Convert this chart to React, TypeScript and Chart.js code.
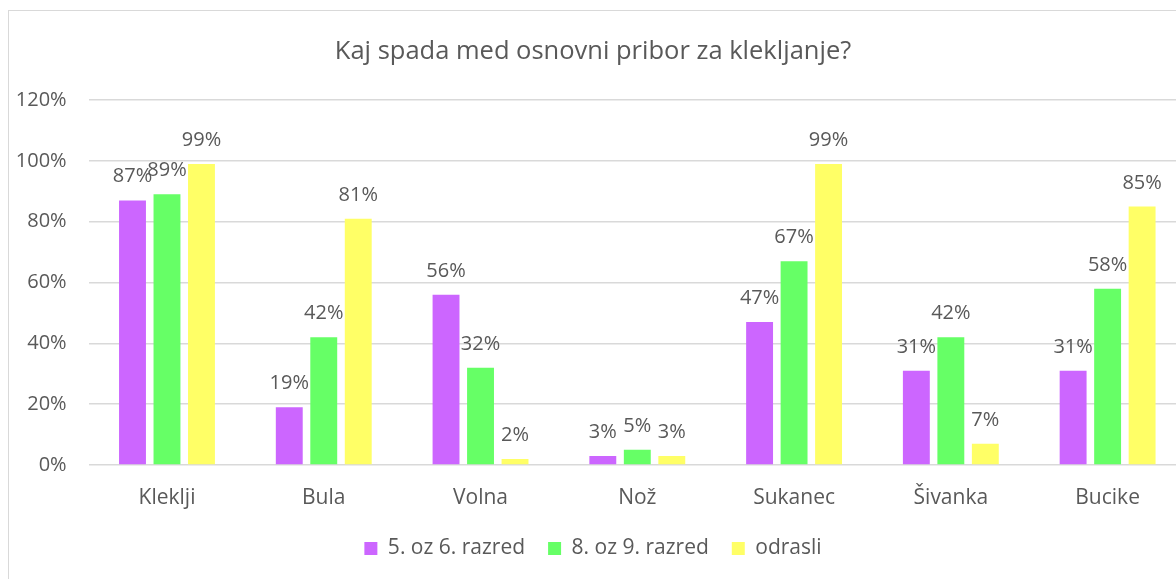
import React, { useEffect, useRef } from "react";
import { Chart, registerables } from "chart.js";

Chart.register(...registerables);

const chartTitle = "Kaj spada med osnovni pribor za klekljanje?";
const categories = ["Kleklji", "Bula", "Volna", "Nož", "Sukanec", "Šivanka", "Bucike"];
const seriesNames = ["5. oz 6. razred", "8. oz 9. razred", "odrasli"];
const grade56 = [87, 19, 56, 3, 47, 31, 31];
const grade89 = [89, 42, 32, 5, 67, 42, 58];
const adults = [99, 81, 2, 3, 99, 7, 85];
const yMin = 0;
const yMax = 120;
const yStep = 20;

const FONT = "'Open Sans', sans-serif";
const TEXT = "#595959";
const GRID = "#d9d9d9";
const COLORS = ["#CC66FF", "#66FF66", "#FFFF66"];

const labelPlugin = {
  id: "barLabels",
  afterDatasetsDraw(chart: any) {
    const ctx = chart.ctx;
    ctx.save();
    ctx.font = `20px ${FONT}`;
    ctx.fillStyle = TEXT;
    ctx.textAlign = "center";
    ctx.textBaseline = "alphabetic";
    chart.data.datasets.forEach((ds: any, i: number) => {
      const meta = chart.getDatasetMeta(i);
      meta.data.forEach((bar: any, j: number) => {
        ctx.fillText(`${ds.data[j]}%`, bar.x, bar.y - 18);
      });
    });
    ctx.restore();
  },
};

export default function App() {
  const canvasRef = useRef<HTMLCanvasElement | null>(null);

  useEffect(() => {
    if (!canvasRef.current) return;
    const seriesValues = [grade56, grade89, adults];
    const chart = new Chart(canvasRef.current, {
      type: "bar",
      data: {
        labels: categories,
        datasets: seriesNames.map((name, i) => ({
          label: name,
          data: seriesValues[i],
          backgroundColor: COLORS[i],
          borderWidth: 0,
          categoryPercentage: 0.66,
          barPercentage: 0.78,
        })),
      },
      options: {
        animation: false,
        responsive: true,
        maintainAspectRatio: false,
        layout: { padding: { left: 0, right: 14, top: 0, bottom: 10 } },
        plugins: {
          title: {
            display: true,
            text: chartTitle,
            color: TEXT,
            font: { family: FONT, size: 25.5, weight: "normal" },
            padding: { top: 36.5, bottom: 33 },
          },
          legend: {
            position: "bottom",
            labels: {
              color: TEXT,
              font: { family: FONT, size: 21 },
              boxWidth: 13,
              boxHeight: 13,
              padding: 23,
            },
          },
          tooltip: { enabled: false },
        },
        scales: {
          x: {
            grid: { display: false },
            border: { display: false },
            ticks: { color: TEXT, font: { family: FONT, size: 21 }, padding: 12 },
            afterFit: (scale: any) => {
              scale.height = 50;
            },
          },
          y: {
            min: yMin,
            max: yMax,
            grid: { color: GRID, lineWidth: 1.5, drawTicks: false },
            border: { display: false },
            ticks: {
              stepSize: yStep,
              color: TEXT,
              font: { family: FONT, size: 20 },
              padding: 22,
              callback: (v: any) => `${v}%`,
            },
            afterFit: (scale: any) => {
              scale.width = 88.6;
            },
          },
        },
      },
      plugins: [labelPlugin],
    });
    return () => chart.destroy();
  }, []);

  return (
    <div
      style={{
        position: "fixed",
        left: 0,
        top: 0,
        width: 1176,
        height: 579,
        overflow: "hidden",
        background: "#fff",
      }}
    >
      <div
        style={{
          position: "absolute",
          left: 8,
          top: 10,
          width: 1400,
          height: 800,
          border: "1.5px solid #d9d9d9",
          boxSizing: "border-box",
        }}
      />
      <div style={{ position: "absolute", left: 0, top: 0, width: 1200, height: 579 }}>
        <canvas ref={canvasRef} />
      </div>
    </div>
  );
}
